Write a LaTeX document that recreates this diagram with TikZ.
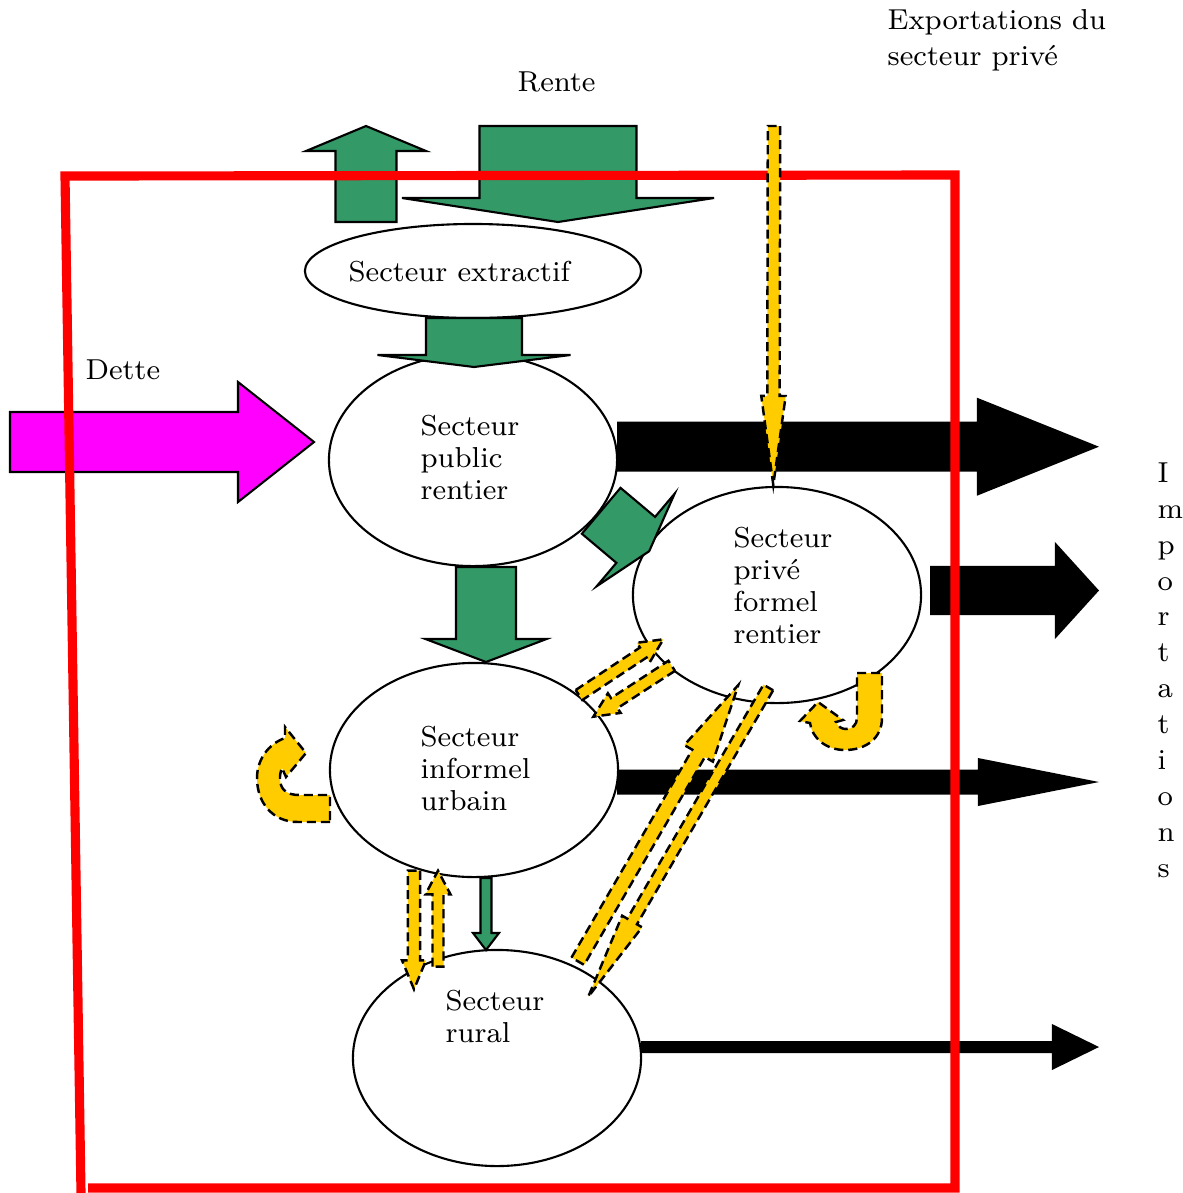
\documentclass[tikz,border=0pt]{standalone}
\usepackage{fontspec}
\usetikzlibrary{calc,shapes.geometric}

\definecolor{vertfleche}{HTML}{339966}
\definecolor{jaunefleche}{HTML}{FFCC00}
\definecolor{rougecadre}{HTML}{FF0000}
\definecolor{magentadette}{HTML}{FF00FF}

\tikzset{
  secteur/.style={ellipse,draw,fill=white,line width=0.6pt,inner sep=0pt},
  texte/.style={align=left,anchor=west,inner sep=0pt,font=\fontsize{8.2}{9.1}\selectfont},
  texte large/.style={texte,font=\fontsize{8.2}{10.2}\selectfont},
  vert/.style={fill=vertfleche,draw=black,line width=0.6pt},
  dette/.style={fill=magentadette,draw=black,line width=0.6pt},
  noire/.style={fill=black},
  jaune/.style={fill=jaunefleche,draw=black,line width=0.7pt,dash pattern=on 2.6pt off 1.4pt},
  cadre/.style={draw=rougecadre,line width=2.6pt},
}

% fleche pleine : [style]{origine}{pointe}{demi-corps}{demi-tete}{longueur tete}
\newcommand{\flecheplate}[6][]{%
  \coordinate (fp base) at ($(#3)!#6!(#2)$);
  \path[#1] ($(#2)!#4!90:(#3)$) -- ($(fp base)!#4!90:(#3)$) -- ($(fp base)!#5!90:(#3)$) -- (#3)
    -- ($(fp base)!#5!-90:(#3)$) -- ($(fp base)!#4!-90:(#3)$) -- ($(#2)!#4!-90:(#3)$) -- cycle;
}

\begin{document}
\begin{tikzpicture}[x=0.01cm,y=-0.01cm]
		\useasboundingbox (0,0) rectangle (1183,1193);

		%les secteurs
		\node (extr) at(473,271) [secteur,minimum width=3.36cm,minimum height=0.94cm] {};
		\node (pub) at(473,460) [secteur,minimum width=2.88cm,minimum height=2.12cm] {};
		\node (prive) at(777,595) [secteur,minimum width=2.88cm,minimum height=2.16cm] {};
		\node (inf) at(474,770) [secteur,minimum width=2.88cm,minimum height=2.14cm] {};
		\node (rur) at(497,1058) [secteur,minimum width=2.88cm,minimum height=2.16cm] {};

		%extremites des fleches
		\coordinate (g1a) at(366,222); \coordinate (g1b) at(366,126);
		\coordinate (g2a) at(558,126); \coordinate (g2b) at(558,222);
		\coordinate (g3a) at(474,318); \coordinate (g3b) at(474,367);
		\coordinate (g4a) at(486,567); \coordinate (g4b) at(486,662);
		\coordinate (g5a) at(486,878); \coordinate (g5b) at(486,950);
		\coordinate (g6a) at(601.2,510.8); \coordinate (g6b) at(649.2,551.2);
		\coordinate (m1a) at(10,442); \coordinate (m1b) at(314,442);
		\coordinate (n1a) at(617,446.7); \coordinate (n1b) at(1099,446.7);
		\coordinate (n2a) at(930,590.5); \coordinate (n2b) at(1099,590.5);
		\coordinate (n3a) at(617,782); \coordinate (n3b) at(1099,782);
		\coordinate (n4a) at(641,1047); \coordinate (n4b) at(1099,1047);
		\coordinate (j1a) at(774,126); \coordinate (j1b) at(773.3,485);
		\coordinate (j2a) at(579,695); \coordinate (j2b) at(663.3,639.3);
		\coordinate (j3a) at(671.7,665.8); \coordinate (j3b) at(593.3,716.7);
		\coordinate (j4a) at(577.8,961.2); \coordinate (j4b) at(738.3,685);
		\coordinate (j5a) at(768.3,687.5); \coordinate (j5b) at(588.3,996.7);
		\coordinate (j6a) at(414,870.7); \coordinate (j6b) at(414,989.3);
		\coordinate (j7a) at(438,966.7); \coordinate (j7b) at(438,870.7);

		%fleches vertes
		\flecheplate[vert]{g1a}{g1b}{3.05mm}{6mm}{2.5mm}
		\flecheplate[vert]{g2a}{g2b}{7.85mm}{15.6mm}{2.4mm}
		\flecheplate[vert]{g3a}{g3b}{4.8mm}{9.65mm}{1.2mm}
		\flecheplate[vert]{g4a}{g4b}{3mm}{6.05mm}{2.3mm}
		\flecheplate[vert]{g5a}{g5b}{0.55mm}{1.3mm}{1.7mm}
		\flecheplate[vert]{g6a}{g6b}{3mm}{6.05mm}{1.76mm}

		%dette
		\flecheplate[dette]{m1a}{m1b}{3mm}{6mm}{7.6mm}

		%importations
		\flecheplate[noire]{n1a}{n1b}{2.5mm}{4.9mm}{12.2mm}
		\flecheplate[noire]{n2a}{n2b}{2.45mm}{4.85mm}{4.4mm}
		\flecheplate[noire]{n3a}{n3b}{1.25mm}{2.4mm}{12.1mm}
		\flecheplate[noire]{n4a}{n4b}{0.6mm}{2.3mm}{4.7mm}

		%le cadre
		\draw[cadre] (81,1193) -- (65,176) -- (955,175) -- (955,1188) -- (88,1188);

		%fleches jaunes
		\flecheplate[jaune]{j1a}{j1b}{0.62mm}{1.22mm}{8.9mm}
		\flecheplate[jaune]{j2a}{j2b}{0.6mm}{1.17mm}{2.4mm}
		\flecheplate[jaune]{j3a}{j3b}{0.6mm}{1.17mm}{2.5mm}
		\flecheplate[jaune]{j4a}{j4b}{0.73mm}{1.65mm}{7.9mm}
		\flecheplate[jaune]{j5a}{j5b}{0.56mm}{1.15mm}{8.7mm}
		\flecheplate[jaune]{j6a}{j6b}{0.62mm}{1.2mm}{2.9mm}
		\flecheplate[jaune]{j7a}{j7b}{0.55mm}{1.25mm}{2.36mm}
		%boucles
		\path[jaune] (330,822) -- (298,822) .. controls (272,822) and (257,802) .. (257,778)
			.. controls (257,760) and (268,744) .. (285,738) -- (285,727) -- (306,753) -- (286,777)
			-- (282,768) .. controls (279,775) and (279,785) .. (284,790)
			.. controls (288,794) and (293,795) .. (300,795) -- (330,795) -- cycle;
		\path[jaune] (857,673) -- (882,673) -- (882,718) .. controls (882,738) and (866,750) .. (845,750)
			.. controls (826,750) and (812,738) .. (810,723) -- (800,721) -- (818,702) -- (843,720)
			-- (836,722) .. controls (838,727) and (842,729) .. (846,729)
			.. controls (852,729) and (857,725) .. (857,718) -- cycle;

		%textes
		\node (t extr) at(348,272) [texte] {Secteur extractif};
		\node (t pub) at(420,457) [texte] {Secteur\\public\\rentier};
		\node (t prive) at(733,585) [texte] {Secteur\\privé\\formel\\rentier};
		\node (t inf) at(420,768) [texte] {Secteur\\informel\\urbain};
		\node (t rur) at(445,1016) [texte] {Secteur\\rural};
		\node (rente) at(517,82) [texte] {Rente};
		\node (t dette) at(85,370) [texte] {Dette};
		\node (export) at(887,40) [texte large] {Exportations du\\secteur privé};
		\node (import) at(1157,670) [texte large] {I\\m\\p\\o\\r\\t\\a\\t\\i\\o\\n\\s};
\end{tikzpicture}
\end{document}
